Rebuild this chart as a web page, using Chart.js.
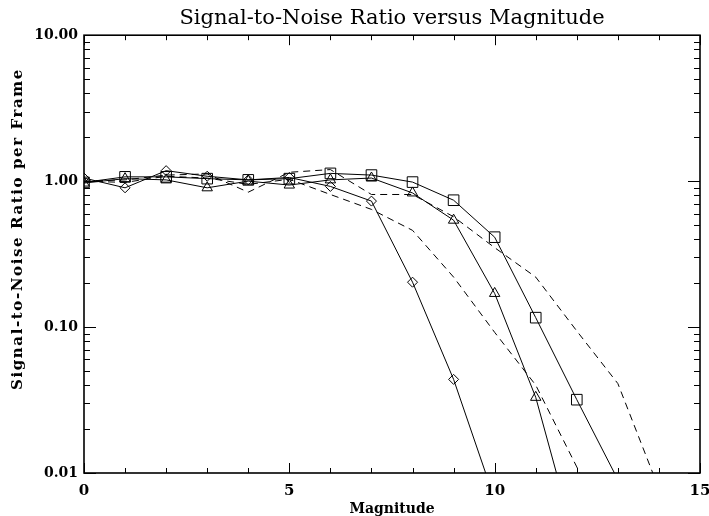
<!DOCTYPE html>
<html>
<head>
<meta charset="utf-8">
<title>Signal-to-Noise Ratio versus Magnitude</title>
<script src="https://cdn.jsdelivr.net/npm/chart.js@4.4.1/dist/chart.umd.min.js"></script>
<style>
  html, body { margin: 0; padding: 0; background: #fff; }
  #wrap { width: 709px; height: 516px; }
</style>
</head>
<body>
<div id="wrap"><canvas id="snrChart"></canvas></div>
<script>
// values (magnitude 0..14, log y)
const magnitude    = [0, 1, 2, 3, 4, 5, 6, 7, 8, 9, 10, 11, 12, 13, 14];
const snrSquares   = [0.98, 1.07, 1.07, 1.04, 1.02, 1.04, 1.13, 1.10, 0.985, 0.74, 0.413, 0.116, 0.0318, 0.009];
const snrTriangles = [0.97, 1.04, 1.02, 0.90, 1.00, 0.94, 1.02, 1.05, 0.83, 0.54, 0.17, 0.033, 0.0031];
const snrDiamonds  = [1.05, 0.90, 1.18, 1.08, 1.02, 1.06, 0.92, 0.73, 0.203, 0.0438, 0.0066];
const snrModelA    = [1.00, 1.02, 1.10, 1.12, 0.84, 1.15, 1.20, 0.81, 0.81, 0.57, 0.35, 0.22, 0.094, 0.041, 0.0078];
const snrModelB    = [1.00, 0.98, 1.08, 1.05, 0.95, 1.03, 0.81, 0.64, 0.46, 0.22, 0.092, 0.040, 0.011, 0.003];

const xTickLabels = [0, 5, 10, 15];
const yTickLabels = [0.01, 0.1, 1, 10];

const titleText = 'Signal-to-Noise Ratio versus Magnitude';
const xTitle = 'Magnitude';
const yTitle = 'Signal-to-Noise Ratio per Frame';

const serif = '"DejaVu Serif", "Liberation Serif", serif';
Chart.defaults.color = '#000';

function toPoints(vals) {
    return vals.map((v, i) => ({ x: magnitude[i], y: v }));
}

function solidSeries(label, vals, style, r) {
    return {
        label: label,
        data: toPoints(vals),
        borderColor: '#000',
        borderWidth: 1,
        pointStyle: style,
        pointRadius: r,
        pointHoverRadius: r,
        pointBorderColor: '#000',
        pointBackgroundColor: 'rgba(0,0,0,0)',
        pointBorderWidth: 1
    };
}

function dashedSeries(label, vals) {
    return {
        label: label,
        data: toPoints(vals),
        borderColor: '#000',
        borderWidth: 1,
        borderDash: [7, 5],
        pointRadius: 0
    };
}

// inward ticks on all four sides, box frame and the rotated y title
const frameAndTicks = {
    id: 'frameAndTicks',
    afterDraw(chart) {
        const { ctx, chartArea: a, scales: { x, y } } = chart;
        ctx.save();
        ctx.strokeStyle = '#000';
        ctx.lineWidth = 1;
        ctx.beginPath();
        for (let m = x.min; m <= x.max; m++) {
            const px = Math.round(x.getPixelForValue(m)) + 0.5;
            const len = xTickLabels.includes(m) ? 10 : 5;
            ctx.moveTo(px, a.bottom); ctx.lineTo(px, a.bottom - len);
            ctx.moveTo(px, a.top); ctx.lineTo(px, a.top + len);
        }
        yTickLabels.forEach(dec => {
            for (let k = 1; k <= 9; k++) {
                const v = dec * k;
                if (v > y.max * 1.0001) break;
                const py = Math.round(y.getPixelForValue(v)) + 0.5;
                const len = k === 1 ? 12 : 6;
                ctx.moveTo(a.left, py); ctx.lineTo(a.left + len, py);
                ctx.moveTo(a.right, py); ctx.lineTo(a.right - len, py);
            }
        });
        ctx.stroke();

        ctx.lineWidth = 1.6;
        ctx.strokeRect(a.left, a.top, a.right - a.left, a.bottom - a.top);

        ctx.translate(18, 229);
        ctx.rotate(-Math.PI / 2);
        ctx.font = 'bold 15px ' + serif;
        ctx.letterSpacing = '1.6px';
        ctx.fillStyle = '#000';
        ctx.textAlign = 'center';
        ctx.textBaseline = 'middle';
        ctx.fillText(yTitle, 0, 0);
        ctx.restore();
    }
};

new Chart(document.getElementById('snrChart'), {
    type: 'line',
    data: {
        datasets: [
            solidSeries('Squares', snrSquares, 'rect', 7.5),
            solidSeries('Triangles', snrTriangles, 'triangle', 6),
            solidSeries('Diamonds', snrDiamonds, 'rectRot', 5),
            dashedSeries('Model A', snrModelA),
            dashedSeries('Model B', snrModelB)
        ]
    },
    options: {
        responsive: true,
        maintainAspectRatio: false,
        animation: false,
        layout: { padding: { right: 9 } },
        elements: { line: { tension: 0 } },
        plugins: {
            legend: { display: false },
            tooltip: { enabled: false },
            title: {
                display: true,
                text: titleText,
                fullSize: false,
                color: '#000',
                font: { family: serif, size: 21, weight: 'normal' },
                padding: { top: 6, bottom: 4 }
            }
        },
        scales: {
            x: {
                type: 'linear',
                min: 0,
                max: 15,
                grid: { display: false, drawTicks: false },
                border: { display: false },
                afterBuildTicks: s => { s.ticks = xTickLabels.map(v => ({ value: v })); },
                afterFit: s => { s.height = 43; s.paddingLeft = 0; s.paddingRight = 0; },
                ticks: {
                    padding: 9,
                    maxRotation: 0,
                    font: { family: serif, size: 15, weight: 'bold' },
                    callback: v => String(v)
                },
                title: {
                    display: true,
                    text: xTitle,
                    font: { family: serif, size: 14, weight: 'bold' },
                    padding: { top: 0, bottom: -2 }
                }
            },
            y: {
                type: 'logarithmic',
                min: 0.01,
                max: 10,
                grid: { display: false, drawTicks: false },
                border: { display: false },
                afterBuildTicks: s => { s.ticks = yTickLabels.map(v => ({ value: v })); },
                afterFit: s => { s.width = 84; s.paddingTop = 0; s.paddingBottom = 0; },
                ticks: {
                    padding: 6,
                    font: { family: serif, size: 14, weight: 'bold' },
                    callback: v => Number(v).toFixed(2)
                }
            }
        }
    },
    plugins: [frameAndTicks]
});
</script>
</body>
</html>
